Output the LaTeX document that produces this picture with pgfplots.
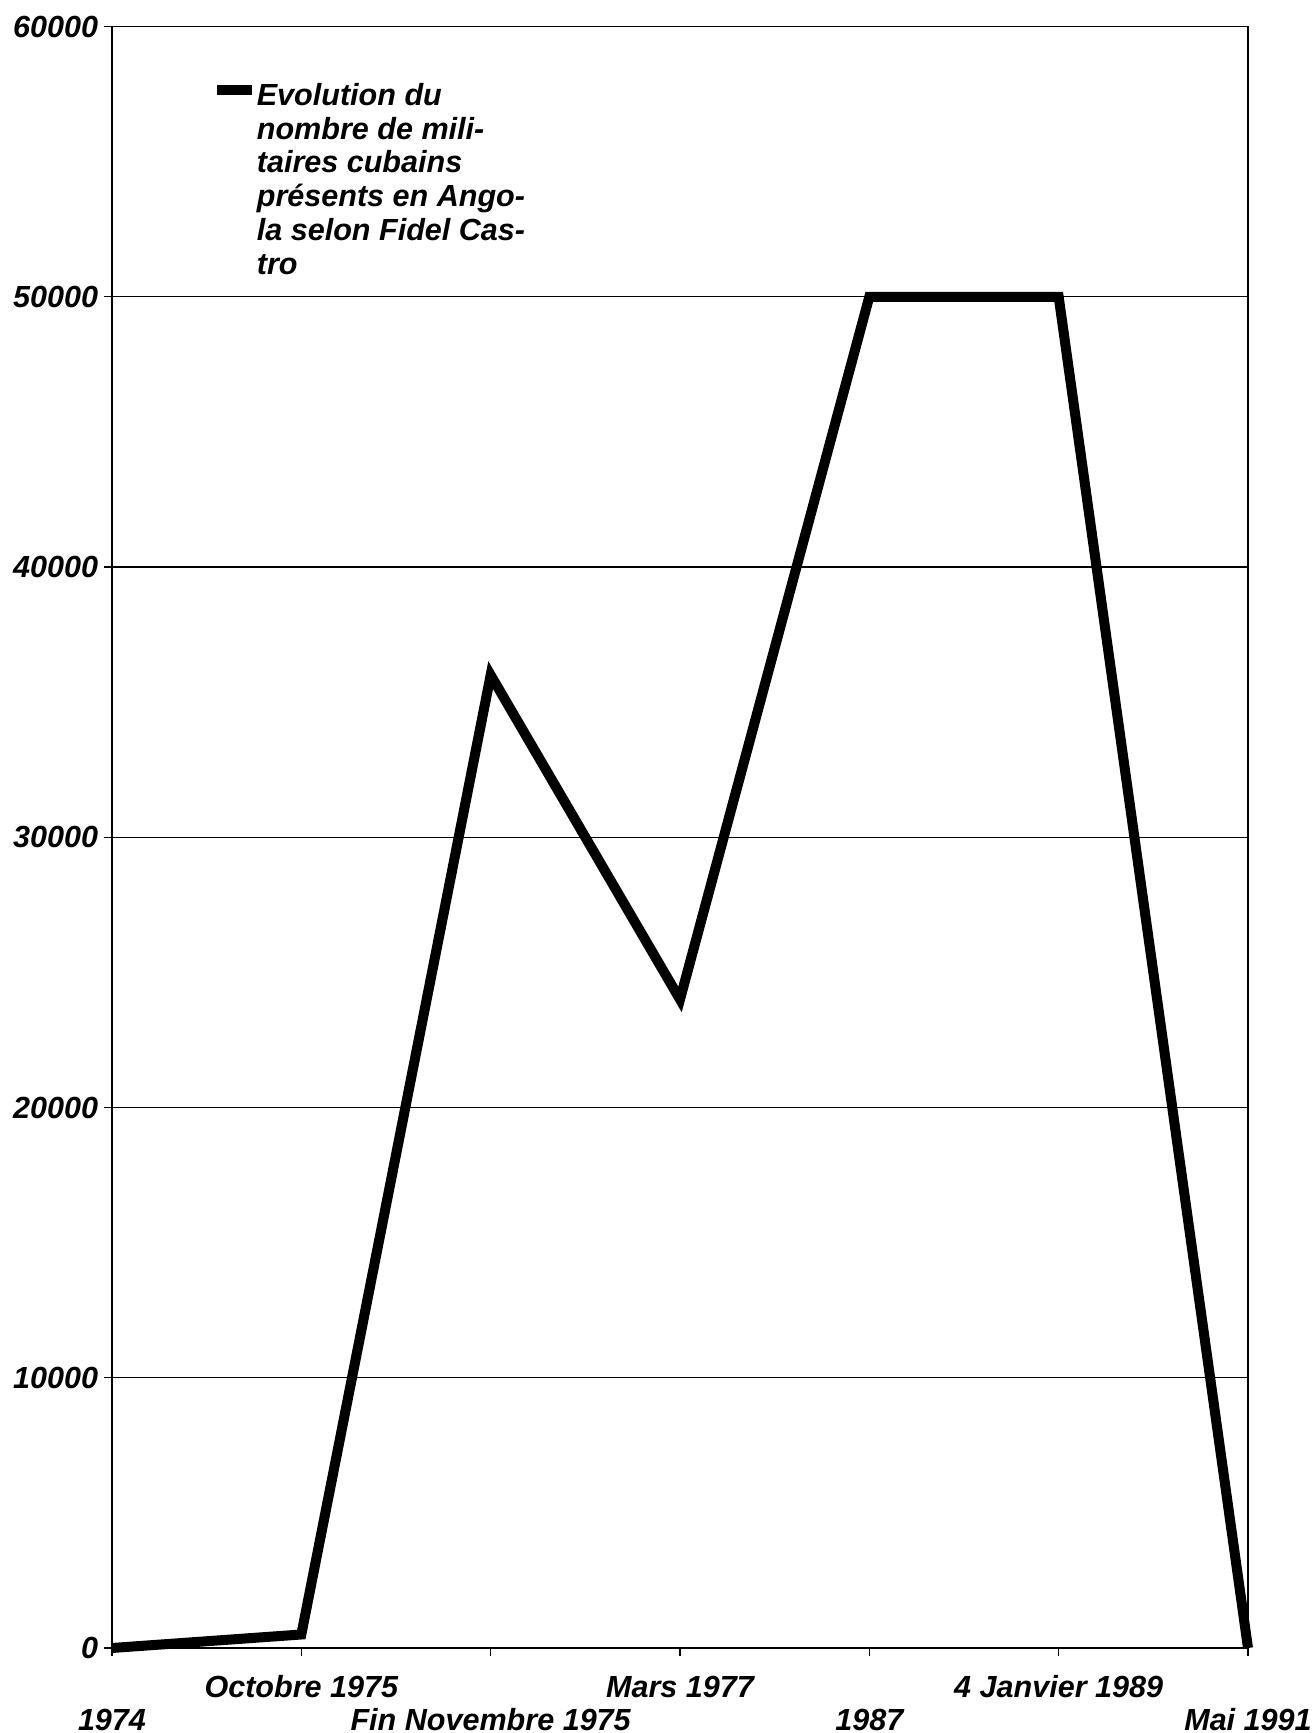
\documentclass[border=0pt]{standalone}
\usepackage{fontspec}
\setmainfont{Liberation Sans}
\usepackage{pgfplots}
\pgfplotsset{compat=1.18}
\begin{document}
\begin{tikzpicture}[font=\fontsize{11}{12.2}\selectfont\bfseries\itshape]
\path[use as bounding box] (-40.32pt,-30.6pt) rectangle (432pt,593.28pt);
\begin{axis}[
  at={(0pt,0pt)}, anchor=origin,
  scale only axis, width=408.96pt, height=583.74pt,
  xmin=0, xmax=6, ymin=0, ymax=60000,
  clip=false,
  xtick={0,...,6},
  xticklabels={{\raisebox{-11.6pt}{1974}},{Octobre 1975},{\raisebox{-11.6pt}{Fin Novembre 1975}},{Mars 1977},{\raisebox{-11.6pt}{1987}},{4 Janvier 1989},{\raisebox{-11.6pt}{Mai 1991}}},
  ytick={0,10000,...,60000},
  scaled y ticks=false,
  /pgf/number format/1000 sep={},
  /pgf/number format/assume math mode=true,
  tick align=outside, tick pos=left, major tick length=3pt,
  tick style={black, line width=0.5pt},
  ymajorgrids, grid style={black, line width=0.45pt},
  axis line style={black, line width=0.6pt},
  x tick label style={anchor=north, text height=8pt, text depth=2pt, yshift=-3.4pt},
  y tick label style={xshift=1.5pt},
  legend style={at={(0.0874,0.9699)}, anchor=north west, draw=none, fill=none, inner sep=0pt,
    nodes={inner xsep=0pt},
    font=\fontsize{11}{12.2}\selectfont\bfseries\itshape},
  legend cell align=left,
  legend image code/.code={\draw[line width=3.6pt,black] (0pt,1.8pt) -- (12.6pt,1.8pt);},
]
\addplot[line width=3.6pt, black, line join=miter] coordinates {
  (0,0) (1,500) (2,36000) (3,24000) (4,50000) (5,50000) (6,0)};
\addlegendentry{\begin{tabular}[t]{@{}l@{}}Evolution du\\nombre de mili-\\taires cubains\\présents en Ango-\\la selon Fidel Cas-\\tro\end{tabular}}
\end{axis}
\end{tikzpicture}
\end{document}
